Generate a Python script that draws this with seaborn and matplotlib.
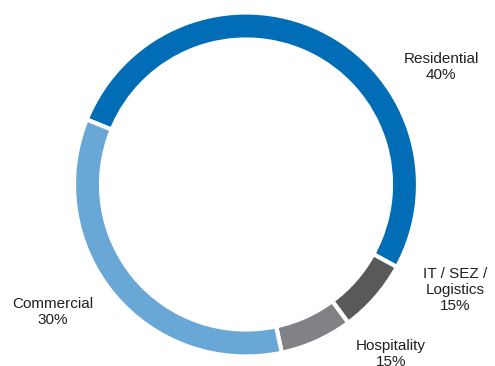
import matplotlib
matplotlib.use("Agg")
import matplotlib.pyplot as plt
import seaborn as sns

# Data (slice sizes as drawn; label text as printed)
categories = ["Residential", "IT / SEZ /\nLogistics", "Hospitality", "Commercial"]
shares = [51.8, 6.9, 6.8, 34.5]
label_pcts = ["40%", "15%", "15%", "30%"]
colors = ["#006db6", "#58595b", "#818285", "#69a8d6"]

sns.set_style("white")
plt.rcParams["font.family"] = ["Liberation Sans", "DejaVu Sans"]

W, H = 495, 366
fig = plt.figure(figsize=(W / 100, H / 100), dpi=100)
ax = fig.add_axes([0, 0, 1, 1])

cx, cy, R = 246.0, 184.5, 172.0
ax.pie(shares, colors=colors, startangle=157.8, counterclock=False,
       radius=1.0, center=(0, 0),
       wedgeprops=dict(width=0.157, edgecolor="white", linewidth=3))

ax.set_xlim((0 - cx) / R, (W - cx) / R)
ax.set_ylim((cy - H) / R, cy / R)
ax.set_aspect("auto")
ax.axis("off")

# label anchor positions (pixel coords of text block centres)
label_pos = [(441, 67), (455, 290), (391, 354), (53, 312)]
for name, pct, (px, py) in zip(categories, label_pcts, label_pos):
    ax.text((px - cx) / R, (cy - py) / R, f"{name}\n{pct}", ha="center",
            va="center", fontsize=11, color="#231f20", linespacing=1.15)

fig.savefig("out.png", dpi=100)
